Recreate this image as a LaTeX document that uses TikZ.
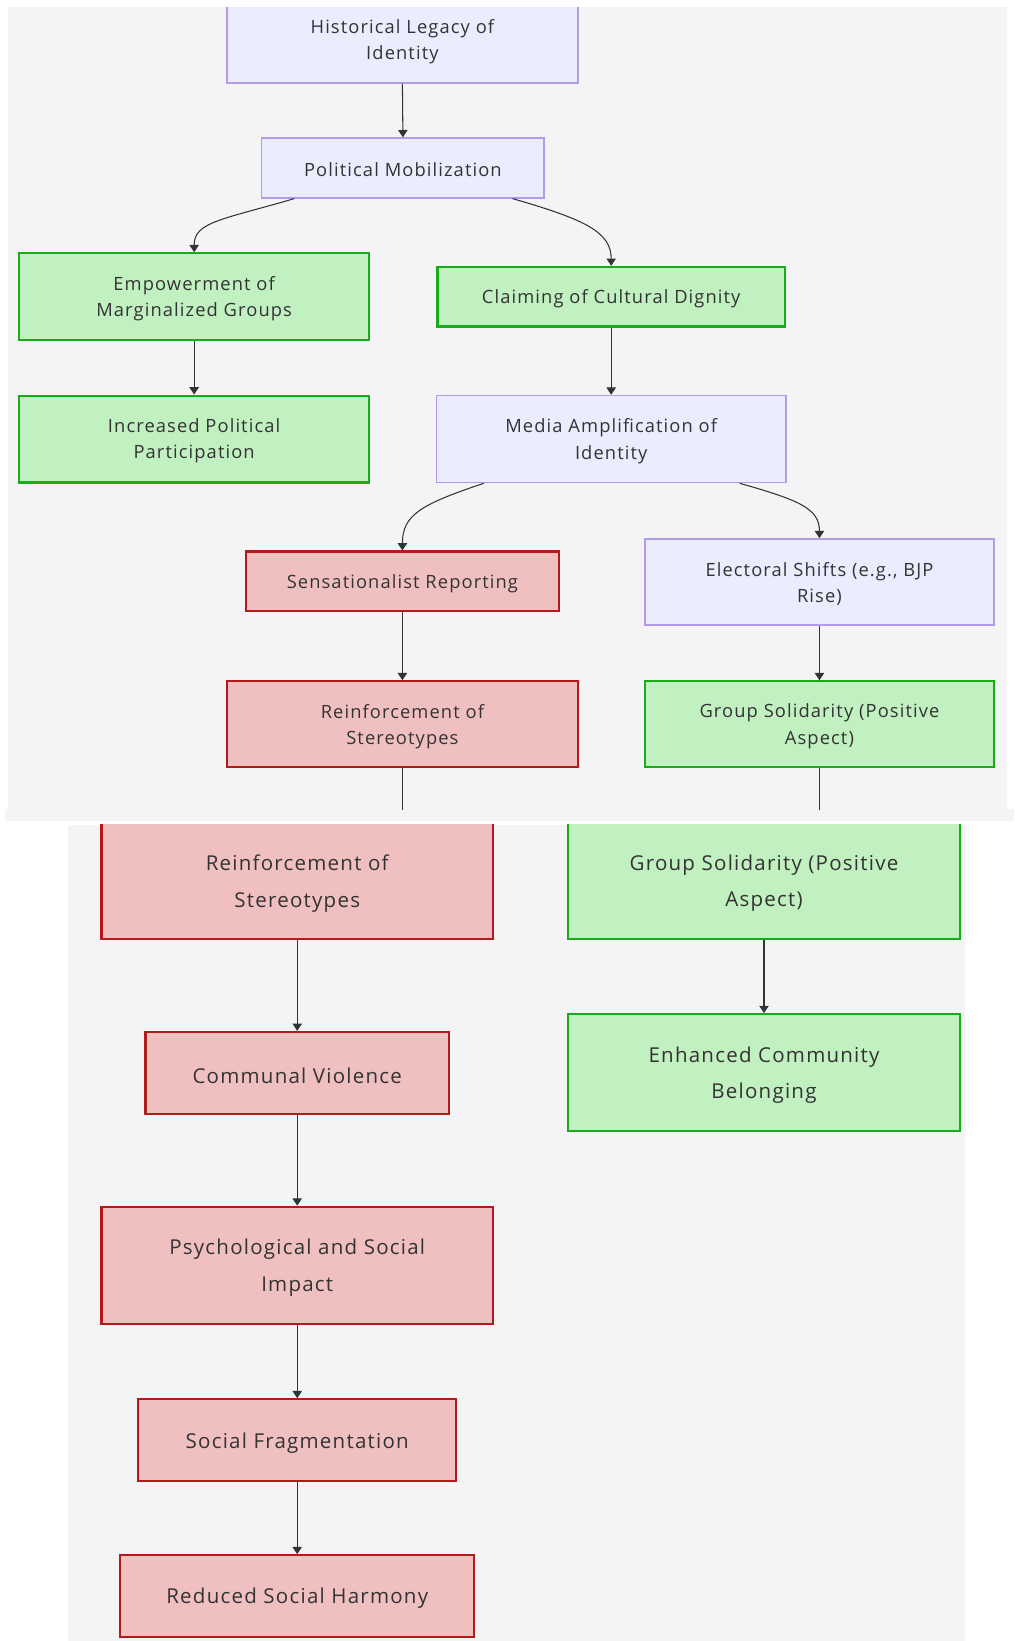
\documentclass[tikz,border=0pt]{standalone}
\usepackage{fontspec}
\setmainfont{Open Sans}
\newfontfamily\diagfont[LetterSpace=6]{Open Sans}
\usetikzlibrary{arrows.meta}
\definecolor{bgc}{HTML}{F4F4F6}
\definecolor{txt}{HTML}{333333}
\definecolor{linec}{HTML}{333333}
\definecolor{purfill}{HTML}{ECECFF}
\definecolor{purdraw}{HTML}{B49BEA}
\definecolor{grnfill}{HTML}{C1F0C1}
\definecolor{grndraw}{HTML}{18AC18}
\definecolor{redfill}{HTML}{F0C0C0}
\definecolor{reddraw}{HTML}{B31B1B}
\tikzset{
  base/.style={rectangle, inner sep=0pt},
  lbl/.style={inner sep=0pt, align=center, text=txt, font=\diagfont\fontsize{17.5}{25}\selectfont, yshift=-2pt},
  lblbig/.style={inner sep=0pt, align=center, text=txt, font=\diagfont\fontsize{19.6}{35}\selectfont, yshift=-2.5pt},
  pur/.style={base, fill=purfill, draw=purdraw, line width=1.6pt},
  grn/.style={base, fill=grnfill, draw=grndraw, line width=2pt},
  redn/.style={base, fill=redfill, draw=reddraw, line width=2pt},
  arr/.style={draw=linec, line width=1pt, -{Triangle[length=7pt,width=9pt]}},
  stub/.style={draw=linec, line width=1pt},
}
\begin{document}
\begin{tikzpicture}[x=1pt,y=-1pt]
\useasboundingbox (0,0) rectangle (969,1568);
\fill[white] (0,0) rectangle (969,1568);
% panels
\fill[bgc] (8,7) rectangle (962,774);
\fill[bgc] (5,773) rectangle (969,784);
\fill[bgc] (65,788) rectangle (922,1568);

% ---------- top panel ----------
\begin{scope}
\clip (8,7) rectangle (962,775);
\node[pur, minimum width=335, minimum height=83, label={[lbl]center:{Historical Legacy of\\Identity}}] (hist) at (384.5,37.5) {};
\node[pur, minimum width=270, minimum height=57, label={[lbl]center:{Political Mobilization}}] (polmob) at (385,160.5) {};
\node[grn, minimum width=335, minimum height=83, label={[lbl]center:{Empowerment of\\Marginalized Groups}}] (empower) at (185.5,283.5) {};
\node[grn, minimum width=332, minimum height=57, label={[lbl]center:{Claiming of Cultural Dignity}}] (claim) at (584,283.5) {};
\node[grn, minimum width=335, minimum height=83, label={[lbl]center:{Increased Political\\Participation}}] (incr) at (185.5,419.5) {};
\node[pur, minimum width=334, minimum height=83, label={[lbl]center:{Media Amplification of\\Identity}}] (media) at (584,419.5) {};
\node[redn, minimum width=299, minimum height=57, label={[lbl]center:{Sensationalist Reporting}}] (sens) at (384.5,555.5) {};
\node[pur, minimum width=334, minimum height=82, label={[lbl]center:{Electoral Shifts (e.g., BJP\\Rise)}}] (elect) at (783,556) {};
\node[redn, minimum width=335, minimum height=82, label={[lbl]center:{Reinforcement of\\Stereotypes}}] (reinf) at (384.5,692) {};
\node[grn, minimum width=334, minimum height=82, label={[lbl]center:{Group Solidarity (Positive\\Aspect)}}] (group) at (783,692) {};
\coordinate (reinfEnd) at (384.5,774);
\coordinate (groupEnd) at (783,774);

\draw[arr] (hist.south) -- (polmob.north);
\draw[arr] ([xshift=32pt]polmob.south west) .. controls (212,210) and (185.5,212) .. (empower.north);
\draw[arr] ([xshift=-31pt]polmob.south east) .. controls (560,210) and (584,222) .. (claim.north);
\draw[arr] (empower.south) -- (incr.north);
\draw[arr] (claim.south) -- (media.north);
\draw[arr] ([xshift=46pt]media.south west) .. controls (402,482) and (384.5,492) .. (sens.north);
\draw[arr] ([xshift=-45pt]media.south east) .. controls (764,478) and (783,486) .. (elect.north);
\draw[arr] (sens.south) -- (reinf.north);
\draw[arr] (elect.south) -- (group.north);
\draw[stub] (reinf.south) -- (reinfEnd);
\draw[stub] (group.south) -- (groupEnd);
\end{scope}

% ---------- bottom panel ----------
\begin{scope}
\clip (65,788) rectangle (922,1568);
\node[redn, minimum width=374, minimum height=112, label={[lblbig]center:{Reinforcement of\\Stereotypes}}] (reinfB) at (284,841.5) {};
\node[grn, minimum width=374, minimum height=112, label={[lblbig]center:{Group Solidarity (Positive\\Aspect)}}] (groupB) at (730,841.5) {};
\node[redn, minimum width=290, minimum height=78, label={[lblbig]center:{Communal Violence}}] (comm) at (284,1025) {};
\node[grn, minimum width=374, minimum height=112, label={[lblbig]center:{Enhanced Community\\Belonging}}] (enh) at (730,1025) {};
\node[redn, minimum width=374, minimum height=112, label={[lblbig]center:{Psychological and Social\\Impact}}] (psych) at (284,1209) {};
\node[redn, minimum width=304, minimum height=78, label={[lblbig]center:{Social Fragmentation}}] (frag) at (284,1376) {};
\node[redn, minimum width=338, minimum height=78, label={[lblbig]center:{Reduced Social Harmony}}] (reduced) at (284,1525) {};

\draw[arr] (reinfB.south) -- (comm.north);
\draw[arr] (groupB.south) -- (enh.north);
\draw[arr] (comm.south) -- (psych.north);
\draw[arr] (psych.south) -- (frag.north);
\draw[arr] (frag.south) -- (reduced.north);
\end{scope}
\end{tikzpicture}
\end{document}
